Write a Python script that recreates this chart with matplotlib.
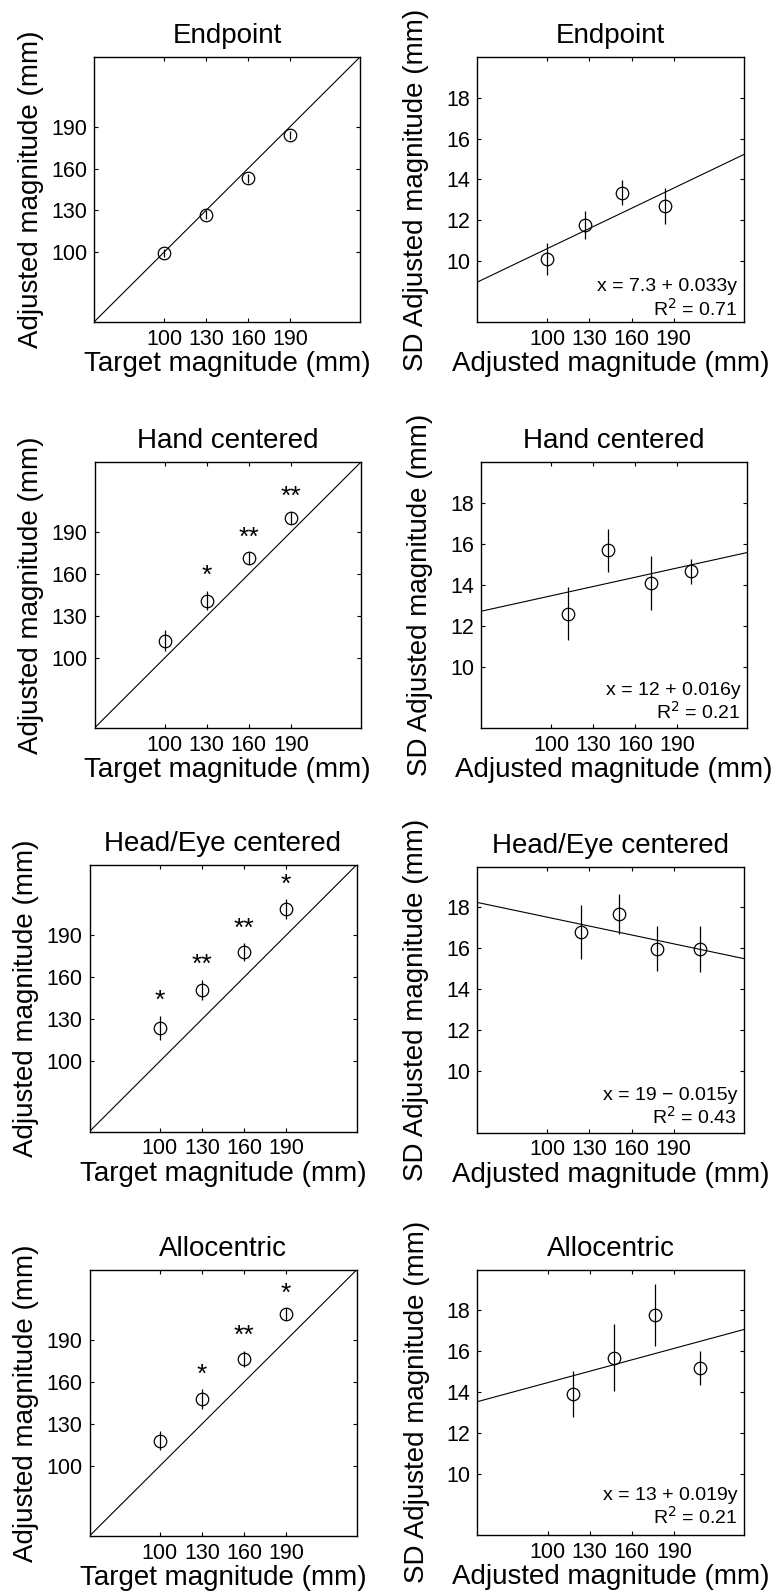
import matplotlib
matplotlib.use("Agg")
import matplotlib.pyplot as plt
import numpy as np

plt.rcParams['font.family'] = ['Liberation Sans', 'DejaVu Sans']

# ---------------- data ----------------
titles = ["Endpoint", "Hand centered", "Head/Eye centered", "Allocentric"]
target = [100, 130, 160, 190]

# Left column: adjusted magnitude (mean, error)
adj_endpoint = [99.5, 127, 153, 184]
adj_endpoint_err = [3, 3, 3, 3]
adj_hand = [112.4, 141, 171.2, 200]
adj_hand_err = [7.4, 7, 4.2, 4.2]
adj_head = [123.8, 151, 177.9, 208.6]
adj_head_err = [8.7, 7.1, 6.2, 6.9]
adj_allo = [118.1, 147.6, 176.6, 208.4]
adj_allo_err = [6.8, 7.1, 5.7, 4.3]

stars_endpoint = ["", "", "", ""]
stars_hand = ["", "*", "**", "**"]
stars_head = ["*", "**", "**", "*"]
stars_allo = ["", "*", "**", "*"]

# Right column: SD of adjusted magnitude (mean, error)
sd_endpoint = [10.08, 11.76, 13.35, 12.68]
sd_endpoint_err = [0.78, 0.67, 0.6, 0.88]
sd_hand = [12.59, 15.68, 14.09, 14.66]
sd_hand_err = [1.31, 1.07, 1.32, 0.6]
sd_head = [16.78, 17.67, 15.97, 15.97]
sd_head_err = [1.32, 0.97, 1.1, 1.12]
sd_allo = [13.9, 15.69, 17.78, 15.16]
sd_allo_err = [1.14, 1.66, 1.53, 0.83]

# regression lines (intercept, slope) and labels
fit_intercept = [7.3, 11.95, 18.97, 12.6]
fit_slope = [0.033, 0.0151, -0.01447, 0.0186]
fit_text = ["x = 7.3 + 0.033y", "x = 12 + 0.016y", "x = 19 \u2212 0.015y", "x = 13 + 0.019y"]
r2_text = ["R$^2$ = 0.71", "R$^2$ = 0.21", "R$^2$ = 0.43", "R$^2$ = 0.21"]

adj_means = [adj_endpoint, adj_hand, adj_head, adj_allo]
adj_errs = [adj_endpoint_err, adj_hand_err, adj_head_err, adj_allo_err]
stars = [stars_endpoint, stars_hand, stars_head, stars_allo]
sd_means = [sd_endpoint, sd_hand, sd_head, sd_allo]
sd_errs = [sd_endpoint_err, sd_hand_err, sd_head_err, sd_allo_err]

left_ticks = [100, 130, 160, 190]
sd_ticks = [10, 12, 14, 16, 18]

# ---------------- layout ----------------
W, H = 774, 1596
fig = plt.figure(figsize=(W / 100, H / 100), dpi=100)

left_pos = [(94, 360, 57, 322), (94.5, 361, 462, 728),
            (89.5, 356.5, 865, 1131.5), (89.5, 356.5, 1270, 1536)]
right_pos = [(477, 744, 57, 322), (481, 747, 462, 728),
             (477, 744, 866.5, 1132.5), (477.5, 744, 1269.5, 1535)]
eq_y = [0.116, 0.124, 0.121, 0.132]
r2_y = [0.025, 0.036, 0.031, 0.042]


def add_ax(l, r, t, b):
    return fig.add_axes([l / W, 1 - b / H, (r - l) / W, (b - t) / H])


TICK_FS = 15.5
LABEL_FS = 20
TITLE_FS = 20
LW = 0.8


def style(ax):
    ax.tick_params(direction='in', length=3, width=0.8, top=True, right=True,
                   labelsize=TICK_FS, pad=5)
    for s in ax.spines.values():
        s.set_linewidth(1.0)


for i in range(4):
    # ---- left panel ----
    l, r, t, b = left_pos[i]
    ax = add_ax(l, r, t, b)
    lims = np.array([50, 240])
    ax.plot(lims, lims, color='black', lw=LW)
    ax.errorbar(target, adj_means[i], yerr=adj_errs[i], fmt='o', mfc='none',
                mec='black', ecolor='black', ms=9, mew=0.9, elinewidth=0.9,
                capsize=0)
    for x, m, e, s in zip(target, adj_means[i], adj_errs[i], stars[i]):
        if s:
            ax.annotate(s, (x, m + e), xytext=(0, 2), textcoords='offset points',
                        ha='center', va='bottom', fontsize=19)
    ax.set_xlim(50, 240)
    ax.set_ylim(50, 240)
    ax.set_xticks(left_ticks)
    ax.set_yticks(left_ticks)
    style(ax)
    ax.set_title(titles[i], fontsize=TITLE_FS, pad=10)
    ax.set_xlabel("Target magnitude (mm)", fontsize=LABEL_FS, labelpad=1)
    ax.set_ylabel("Adjusted magnitude (mm)", fontsize=LABEL_FS, labelpad=5)

    # ---- right panel ----
    l, r, t, b = right_pos[i]
    ax = add_ax(l, r, t, b)
    xs = np.array([50, 240])
    ax.plot(xs, fit_intercept[i] + fit_slope[i] * xs, color='black', lw=LW)
    ax.errorbar(adj_means[i], sd_means[i], yerr=sd_errs[i], fmt='o', mfc='none',
                mec='black', ecolor='black', ms=9, mew=0.9, elinewidth=0.9,
                capsize=0)
    ax.set_xlim(50, 240)
    ax.set_ylim(7, 20)
    ax.set_xticks(left_ticks)
    ax.set_yticks(sd_ticks)
    style(ax)
    ax.text(0.975, eq_y[i], fit_text[i], transform=ax.transAxes, ha='right',
            va='baseline', fontsize=14)
    ax.text(0.975, r2_y[i], r2_text[i], transform=ax.transAxes, ha='right',
            va='baseline', fontsize=14)
    ax.set_title(titles[i], fontsize=TITLE_FS, pad=10)
    ax.set_xlabel("Adjusted magnitude (mm)", fontsize=LABEL_FS, labelpad=1)
    ax.set_ylabel("SD Adjusted magnitude (mm)", fontsize=LABEL_FS, labelpad=12)

fig.savefig("out.png", dpi=100)
